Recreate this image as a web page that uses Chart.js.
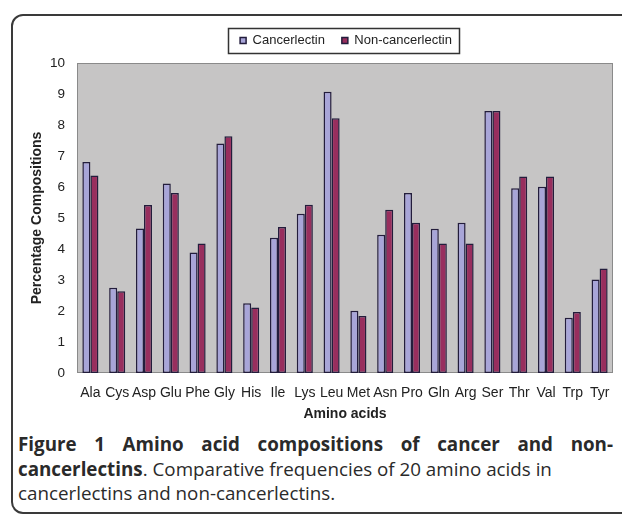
<!DOCTYPE html>
<html>
<head>
<meta charset="utf-8">
<script src="https://cdn.jsdelivr.net/npm/chart.js@4/dist/chart.umd.min.js"></script>
<style>
    body {
        margin: 0;
        width: 622px;
        height: 514px;
        overflow: hidden;
        background: #fff;
        position: relative;
    }
    .frame {
        position: absolute;
        left: 11px;
        top: 14px;
        width: 640px;
        height: 496px;
        border: 2px solid #3a3a3a;
        border-radius: 12px;
    }
    #chart {
        position: absolute;
        left: 0;
        top: 0;
    }
    .caption {
        position: absolute;
        left: 18px;
        top: 432px;
        width: 595px;
        font-family: "Open Sans", sans-serif;
        font-size: 18.8px;
        line-height: 24.5px;
        color: #2a2a2a;
    }
    .caption .line1 {
        font-weight: bold;
        text-align: justify;
        text-align-last: justify;
    }
    .caption div { white-space: nowrap; }
    .caption .line1 { white-space: normal; }
</style>
</head>
<body>
<div class="frame"></div>
<canvas id="chart" width="622" height="430"></canvas>
<div class="caption">
    <div class="line1">Figure 1 Amino acid compositions of cancer and non-</div>
    <div><b>cancerlectins</b>. Comparative frequencies of 20 amino acids in</div>
    <div>cancerlectins and non-cancerlectins.</div>
</div>
<script>
// Data
const aminoAcids = ['Ala', 'Cys', 'Asp', 'Glu', 'Phe', 'Gly', 'His', 'Ile', 'Lys', 'Leu',
    'Met', 'Asn', 'Pro', 'Gln', 'Arg', 'Ser', 'Thr', 'Val', 'Trp', 'Tyr'];
const cancerlectin = [6.81, 2.75, 4.66, 6.11, 3.89, 7.40, 2.25, 4.36, 5.14, 9.07,
    2.01, 4.46, 5.81, 4.65, 4.85, 8.45, 5.96, 6.01, 1.78, 3.02];
const nonCancerlectin = [6.37, 2.64, 5.42, 5.81, 4.18, 7.64, 2.11, 4.71, 5.43, 8.22,
    1.84, 5.27, 4.85, 4.18, 4.18, 8.45, 6.34, 6.34, 1.97, 3.37];
const seriesNames = ['Cancerlectin', 'Non-cancerlectin'];
const yMin = 0;
const yMax = 10;
const yStep = 1;

const fontFamily = '"Liberation Sans", Arial, sans-serif';

// Plot area background + frame
const plotFrame = {
    id: 'plotFrame',
    beforeDatasetsDraw(chart) {
        const {ctx, chartArea: a} = chart;
        ctx.save();
        ctx.fillStyle = '#c6c5c5';
        ctx.fillRect(a.left, a.top, a.right - a.left, a.bottom - a.top);
        ctx.strokeStyle = '#8a8a8a';
        ctx.lineWidth = 1;
        ctx.strokeRect(a.left + 0.5, a.top + 0.5, a.right - a.left - 1, a.bottom - a.top - 1);
        ctx.restore();
    }
};

// Move the legend over the plot centre and draw its box
const legendBox = {
    id: 'legendBox',
    afterLayout(chart) {
        const legend = chart.legend;
        const a = chart.chartArea;
        const dx = (a.left + a.right) / 2 + 1 - (legend.left + legend.right) / 2;
        const opts = legend.options.labels;
        const textCenter = legend.top + opts.padding + opts.font.size / 2;
        const dy = 40.5 - textCenter;
        legend.left += dx;
        legend.right += dx;
        legend.top += dy;
        legend.bottom += dy;
    },
    afterDraw(chart) {
        const boxes = chart.legend.legendHitBoxes;
        if (!boxes || !boxes.length) return;
        const first = boxes[0];
        const last = boxes[boxes.length - 1];
        const cy = first.top + first.height / 2;
        const {ctx} = chart;
        ctx.save();
        ctx.strokeStyle = '#333';
        ctx.lineWidth = 1.5;
        const x0 = Math.round(first.left - 12);
        const x1 = Math.round(last.left + last.width + 7);
        ctx.strokeRect(x0 + 0.5, Math.round(cy - 12.5) + 0.5, x1 - x0, 25);
        ctx.restore();
    }
};

new Chart(document.getElementById('chart'), {
    type: 'bar',
    data: {
        labels: aminoAcids,
        datasets: [{
            label: seriesNames[0],
            data: cancerlectin,
            backgroundColor: '#a8a5d8',
            borderColor: '#231d3c',
            borderWidth: 1.5,
            borderSkipped: false
        }, {
            label: seriesNames[1],
            data: nonCancerlectin,
            backgroundColor: '#982e5e',
            borderColor: '#231d3c',
            borderWidth: 1.5,
            borderSkipped: false
        }]
    },
    options: {
        responsive: false,
        animation: false,
        devicePixelRatio: 1,
        layout: {
            padding: {left: 0, right: 9, top: 23, bottom: 0}
        },
        datasets: {
            bar: {
                categoryPercentage: 0.6,
                barPercentage: 1.0
            }
        },
        plugins: {
            legend: {
                position: 'top',
                labels: {
                    boxWidth: 6,
                    boxHeight: 6,
                    padding: 17,
                    color: '#222',
                    font: {family: fontFamily, size: 13}
                }
            },
            tooltip: {enabled: false}
        },
        scales: {
            x: {
                grid: {display: false, drawTicks: false},
                border: {display: false},
                ticks: {
                    color: '#222',
                    padding: 12,
                    maxRotation: 0,
                    autoSkip: false,
                    font: {family: fontFamily, size: 14}
                },
                title: {
                    display: true,
                    text: 'Amino acids',
                    color: '#222',
                    padding: {top: 0, bottom: 7},
                    font: {family: fontFamily, size: 14, weight: 'bold'}
                },
                afterFit(scale) {
                    scale.height = 57;
                }
            },
            y: {
                min: yMin,
                max: yMax,
                grid: {display: false, drawTicks: false},
                border: {display: false},
                ticks: {
                    stepSize: yStep,
                    color: '#222',
                    padding: 12,
                    font: {family: fontFamily, size: 13.5}
                },
                title: {
                    display: true,
                    text: 'Percentage Compositions',
                    color: '#222',
                    padding: {top: 29, bottom: 0},
                    font: {family: fontFamily, size: 14, weight: 'bold'}
                },
                afterFit(scale) {
                    scale.width = 77;
                }
            }
        }
    },
    plugins: [plotFrame, legendBox]
});
</script>
</body>
</html>
